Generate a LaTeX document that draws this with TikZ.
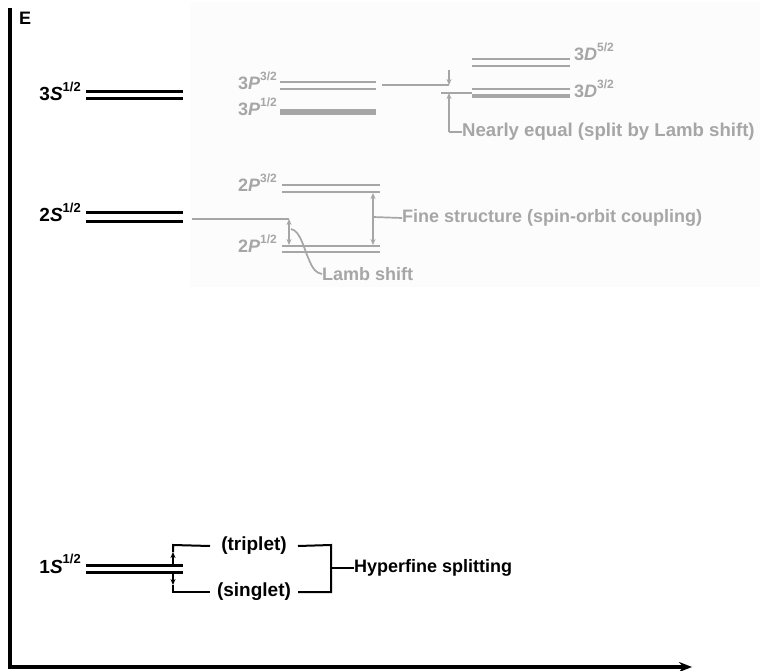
\documentclass[tikz,border=0pt]{standalone}
\usepackage{fontspec}
\setmainfont{Liberation Sans}
\usetikzlibrary{arrows.meta}
\definecolor{lg}{HTML}{A6A6A6}
\definecolor{bgg}{HTML}{FCFCFC}
\newcommand{\lvlb}[3]{#1\textit{#2}\raisebox{0.5em}{\fontsize{13}{13}\selectfont #3}}
\newcommand{\lvlg}[3]{#1\textit{#2}\raisebox{0.5em}{\fontsize{12}{12}\selectfont #3}}
\begin{document}
\begin{tikzpicture}[x=1pt,y=-1pt,
  lev/.style={line width=3pt},
  glev/.style={lg,line width=2.5pt},
  blab/.style={font=\bfseries\fontsize{19}{19}\selectfont, inner sep=0pt, anchor=base east},
  glab/.style={font=\bfseries\fontsize{18}{18}\selectfont, inner sep=0pt, text=lg},
  ann/.style={font=\bfseries\fontsize{18}{18}\selectfont, inner sep=0pt, anchor=west},
  gann/.style={ann, text=lg},
  conn/.style={line width=2pt},
  gconn/.style={lg,line width=1.7pt},
  tipa/.style={-{Stealth[length=6pt,width=5pt]}},
  tipb/.style={{Stealth[length=6pt,width=5pt]}-{Stealth[length=6pt,width=5pt]}}
]
\useasboundingbox (0,0) rectangle (760,671);
\fill[bgg] (190,2) rectangle (760,287);

% axes
\coordinate (top) at (10,8);
\coordinate (o) at (10,667);
\coordinate (xend) at (692,667);
\draw[line width=3.6pt, line join=miter, -{Stealth[length=13pt,width=10pt]}] (top) -- (o) -- (xend);
\node[font=\bfseries\fontsize{18}{18}\selectfont, inner sep=0pt, anchor=north west] (E) at (19,12) {E};

% ---- black S levels
\foreach \yy in {92,99} \draw[lev] (86,\yy) -- (183,\yy);
\node[blab] (l3s) at (81,101) {\lvlb{3}{S}{1/2}};
\foreach \yy in {213,221} \draw[lev] (86,\yy) -- (183,\yy);
\node[blab] (l2s) at (81,222) {\lvlb{2}{S}{1/2}};
\foreach \yy in {565,572} \draw[lev] (86,\yy) -- (183,\yy);
\node[blab] (l1s) at (81,573) {\lvlb{1}{S}{1/2}};

% ---- hyperfine
\coordinate (hu0) at (173,564);
\coordinate (hum) at (173,552);
\coordinate (huc) at (173,545);
\coordinate (hd0) at (173,573);
\coordinate (hdm) at (173,585);
\coordinate (hdc) at (173,592);
\node[ann, font=\bfseries\fontsize{19}{19}\selectfont, anchor=center] (trip) at (254,546) {(triplet)};
\node[ann, font=\bfseries\fontsize{19}{19}\selectfont, anchor=center] (sing) at (254,592) {(singlet)};
\coordinate (bu) at (331,545);
\coordinate (bd) at (331,592);
\coordinate (bm) at (331,568);
\node[ann] (hfs) at (354,568) {Hyperfine splitting};
\draw[conn, tipa] (hu0) -- (hum);
\draw[conn] (hum) -- (huc) -- (trip.west -| 210,0);
\draw[conn, tipa] (hd0) -- (hdm);
\draw[conn] (hdm) -- (hdc) -- (sing.west -| 210,0);
\draw[conn] (trip.east -| 298,0) -- (bu) -- (bd) -- (sing.east -| 298,0);
\draw[conn] (bm) -- (hfs.west);

% ---- n=3 grey levels
\foreach \yy in {82,89} \draw[glev] (280,\yy) -- (376,\yy);
\node[glab, anchor=base east] (l3p3) at (277,90) {\lvlg{3}{P}{3/2}};
\draw[lg, line width=6pt] (280,112) -- (376,112);
\node[glab, anchor=base east] (l3p1) at (277,116) {\lvlg{3}{P}{1/2}};
\foreach \yy in {59,66} \draw[glev] (472,\yy) -- (570,\yy);
\node[glab, anchor=base west] (l3d5) at (574,61) {\lvlg{3}{D}{5/2}};
\draw[glev] (472,89) -- (570,89);
\draw[lg, line width=3.2pt] (472,96) -- (570,96);
\node[glab, anchor=base west] (l3d3) at (574,98) {\lvlg{3}{D}{3/2}};

\coordinate (p3e) at (449,85);
\coordinate (d3e) at (449,93);
\draw[gconn] (382,85) -- (p3e);
\draw[gconn] (472,93) -- (441,93);
\draw[gconn, tipa] (449,70) -- (p3e);
\coordinate (ne) at (449,132);
\node[gann, font=\bfseries\fontsize{18.6}{18.6}\selectfont] (near) at (462,132) {Nearly equal (split by Lamb shift)};
\draw[gconn, tipa] (ne) -- (d3e);
\draw[gconn] (ne) -- (near.west);

% ---- n=2 grey levels
\foreach \yy in {185,192} \draw[glev] (282,\yy) -- (380,\yy);
\node[glab, anchor=base east] (l2p3) at (277,192) {\lvlg{2}{P}{3/2}};
\foreach \yy in {246,252} \draw[glev] (282,\yy) -- (380,\yy);
\node[glab, anchor=base east] (l2p1) at (277,252) {\lvlg{2}{P}{1/2}};

\coordinate (s2e) at (289,219);
\coordinate (p1t) at (289,245);
\draw[gconn] (192,219) -- (s2e);
\draw[gconn, tipb] (s2e) -- (p1t);
\node[gann] (lamb) at (322,274) {Lamb shift};
\draw[gconn] (291,229) .. controls (301,231) and (304,250) .. (310,262) .. controls (313,269) and (316,273) .. (lamb.west);

\coordinate (fa) at (373,193);
\coordinate (fb) at (373,245);
\coordinate (fm) at (373,217);
\draw[gconn, tipb] (fa) -- (fb);
\node[gann] (fine) at (402,218) {Fine structure (spin-orbit coupling)};
\draw[gconn] (fm) -- (fine.west);
\end{tikzpicture}
\end{document}
